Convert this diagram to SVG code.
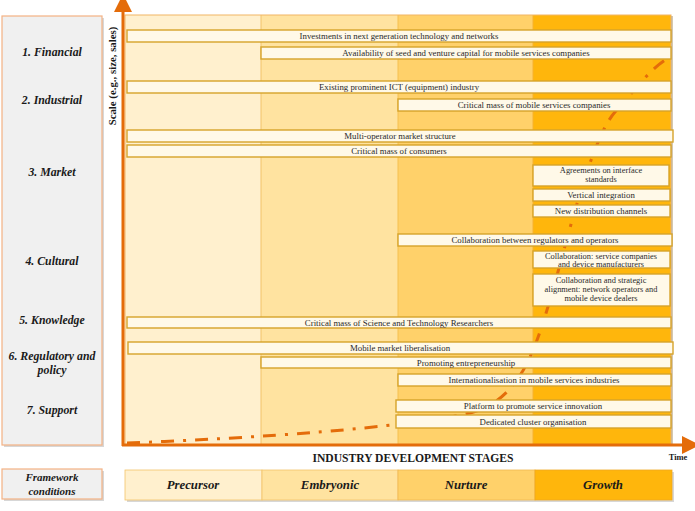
<svg xmlns="http://www.w3.org/2000/svg" width="695" height="511" viewBox="0 0 695 511">
<defs>
<style>
.bar{fill:#FFF9E8;stroke:#D6A32A;stroke-width:1.4}
.bt{font-family:"Liberation Serif",serif;font-size:8.8px;fill:#2a2a2a;text-anchor:middle}
.bt2{font-family:"Liberation Serif",serif;font-size:8.4px;fill:#2a2a2a;text-anchor:middle}
.lbl{font-family:"Liberation Serif",serif;font-size:11.8px;font-weight:bold;font-style:italic;fill:#1a1a1a;text-anchor:middle}
.fw{font-family:"Liberation Serif",serif;font-size:11px;font-weight:bold;font-style:italic;fill:#1a1a1a;text-anchor:middle}
.panel{fill:#F0F0F0;stroke:#F4B183;stroke-width:1.2}
.shadow{fill:#BDBDBD;opacity:0.6}
.axis{stroke:#E46C0A;stroke-width:3;fill:none}
.st{font-family:"Liberation Serif",serif;font-size:12.8px;font-weight:bold;font-style:italic;fill:#1a1a1a;text-anchor:middle}
</style>
<marker id="arr" markerWidth="6" markerHeight="6" refX="1" refY="3" orient="auto" markerUnits="strokeWidth">
<path d="M0,0 L6,3 L0,6 z" fill="#E46C0A"/>
</marker>
</defs>
<rect width="695" height="511" fill="#FFFFFF"/>

<!-- Left panel -->
<g id="panel-left">
<rect class="shadow" x="4" y="18" width="100" height="429"/>
<rect class="panel" x="2" y="16" width="100" height="429"/>
<text class="lbl" x="52" y="56">1. Financial</text>
<text class="lbl" x="52" y="104">2. Industrial</text>
<text class="lbl" x="52" y="176">3. Market</text>
<text class="lbl" x="52" y="265">4. Cultural</text>
<text class="lbl" x="52" y="324">5. Knowledge</text>
<text class="lbl" x="52" y="359.5">6. Regulatory and</text>
<text class="lbl" x="52" y="373.5">policy</text>
<text class="lbl" x="52" y="414">7. Support</text>
</g>

<!-- Chart background columns -->
<g id="columns">
<rect x="125" y="15" width="136" height="430" fill="#FFF0CE"/>
<rect x="261" y="15" width="137" height="430" fill="#FFE3A0"/>
<rect x="398" y="15" width="135" height="430" fill="#FFD16A"/>
<rect x="533" y="15" width="138" height="430" fill="#FFB60C"/>
<line x1="261" y1="15" x2="261" y2="445" stroke="#F2C46A" stroke-width="1"/>
<line x1="398" y1="15" x2="398" y2="445" stroke="#F5C050" stroke-width="1"/>
<line x1="533" y1="15" x2="533" y2="445" stroke="#F6B230" stroke-width="1"/>
<rect x="125" y="15" width="546" height="430" fill="none" stroke="#F2B565" stroke-width="1"/>
<line x1="672" y1="16" x2="672" y2="445" stroke="#B9A27A" stroke-width="1.2"/>
</g>

<!-- Growth curve -->
<g id="curve">
<path d="M127,443 C260,438 400,428 470,413 C520,400 535,350 550,300 S590,140 615,112 S650,70 665,60" fill="none" stroke="#E46C0A" stroke-width="3" stroke-dasharray="13 9 3 9"/>
</g>

<!-- Connectors / axes -->
<g id="connectors">
<line class="axis" x1="123" y1="446" x2="123" y2="9" marker-end="url(#arr)"/>
<line class="axis" x1="122" y1="445" x2="685" y2="445" marker-end="url(#arr)"/>
</g>

<g id="axis-labels">
<text transform="translate(116,76) rotate(-90)" font-family="Liberation Serif,serif" font-size="10.8px" font-weight="bold" fill="#1a1a1a" text-anchor="middle">Scale (e.g., size, sales)</text>
<text x="413" y="462" font-family="Liberation Serif,serif" font-size="11.6px" font-weight="bold" fill="#1a1a1a" text-anchor="middle">INDUSTRY DEVELOPMENT STAGES</text>
<text x="678" y="460" font-family="Liberation Serif,serif" font-size="8.5px" font-weight="bold" fill="#1a1a1a" text-anchor="middle">Time</text>
</g>

<!-- Bars -->
<g id="bar-1"><rect class="bar" x="127" y="30" width="544" height="12"/><text class="bt" x="399" y="39">Investments in next generation technology and networks</text></g>
<g id="bar-2"><rect class="bar" x="261" y="47" width="410" height="12"/><text class="bt" x="466" y="56">Availability of seed and venture capital for mobile services companies</text></g>
<g id="bar-3"><rect class="bar" x="127" y="81" width="544" height="12"/><text class="bt" x="399" y="90">Existing prominent ICT (equipment) industry</text></g>
<g id="bar-4"><rect class="bar" x="398" y="99" width="273" height="12"/><text class="bt" x="534" y="108">Critical mass of mobile services companies</text></g>
<g id="bar-5"><rect class="bar" x="127" y="130" width="546" height="12"/><text class="bt" x="400" y="139">Multi-operator market structure</text></g>
<g id="bar-6"><rect class="bar" x="127" y="145" width="544" height="12"/><text class="bt" x="399" y="154">Critical mass of consumers</text></g>
<g id="bar-7"><rect class="bar" x="533" y="165" width="136" height="21"/><text class="bt2" x="601" y="173">Agreements on interface</text><text class="bt2" x="601" y="182">standards</text></g>
<g id="bar-8"><rect class="bar" x="533" y="189" width="137" height="12"/><text class="bt" x="601" y="198">Vertical integration</text></g>
<g id="bar-9"><rect class="bar" x="533" y="205" width="137" height="12"/><text class="bt" x="601" y="214">New distribution channels</text></g>
<g id="bar-10"><rect class="bar" x="398" y="234" width="274" height="12"/><text class="bt" x="535" y="243">Collaboration between regulators and operators</text></g>
<g id="bar-11"><rect class="bar" x="533" y="251" width="137" height="17"/><text class="bt2" x="601" y="258.5">Collaboration: service companies</text><text class="bt2" x="601" y="266.5">and device manufacturers</text></g>
<g id="bar-12"><rect class="bar" x="533" y="274" width="137" height="32"/><text class="bt2" x="601" y="283">Collaboration and strategic</text><text class="bt2" x="601" y="292">alignment: network operators and</text><text class="bt2" x="601" y="301">mobile device dealers</text></g>
<g id="bar-13"><rect class="bar" x="127" y="317" width="544" height="11"/><text class="bt" x="399" y="325.5">Critical mass of Science and Technology Researchers</text></g>
<g id="bar-14"><rect class="bar" x="128" y="342" width="545" height="12"/><text class="bt" x="400" y="351">Mobile market liberalisation</text></g>
<g id="bar-15"><rect class="bar" x="261" y="357" width="410" height="11"/><text class="bt" x="466" y="365.5">Promoting entrepreneurship</text></g>
<g id="bar-16"><rect class="bar" x="398" y="374" width="273" height="12"/><text class="bt" x="534" y="383">Internationalisation in mobile services industries</text></g>
<g id="bar-17"><rect class="bar" x="396" y="400" width="275" height="12"/><text class="bt" x="533" y="409">Platform to promote service innovation</text></g>
<g id="bar-18"><rect class="bar" x="396" y="415" width="275" height="13"/><text class="bt" x="533" y="424.5">Dedicated cluster organisation</text></g>

<!-- Framework conditions -->
<g id="framework">
<rect class="shadow" x="4" y="471" width="100" height="30"/>
<rect class="panel" x="2" y="469" width="100" height="30"/>
<text class="fw" x="52" y="481">Framework</text>
<text class="fw" x="52" y="494.5">conditions</text>
</g>

<!-- Stages -->
<g id="stages">
<rect class="shadow" x="127" y="472" width="547" height="30"/>
<rect x="125" y="470" width="137" height="30" fill="#FFF0CE" stroke="#F2C46A" stroke-width="0.8"/>
<rect x="262" y="470" width="136" height="30" fill="#FFE3A0" stroke="#F2C46A" stroke-width="0.8"/>
<rect x="398" y="470" width="137" height="30" fill="#FFD16A" stroke="#F0B850" stroke-width="0.8"/>
<rect x="535" y="470" width="137" height="30" fill="#FFB60C" stroke="#F0A820" stroke-width="0.8"/>
<text class="st" x="193" y="489">Precursor</text>
<text class="st" x="330" y="489">Embryonic</text>
<text class="st" x="466" y="489">Nurture</text>
<text class="st" x="603" y="489">Growth</text>
</g>
</svg>
